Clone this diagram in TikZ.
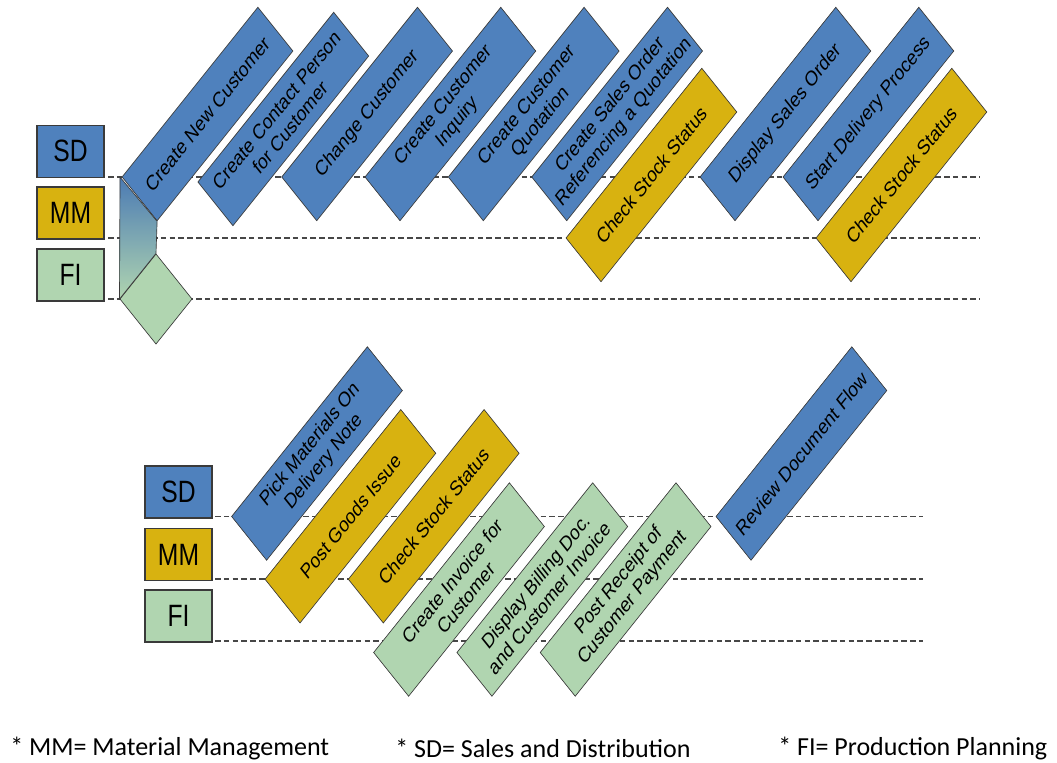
\documentclass[tikz,border=0pt]{standalone}
\usepackage{fontspec}
\setmainfont{Liberation Sans}
\newfontfamily\footfont{Carlito}
\definecolor{sdblue}{HTML}{4F81BD}
\definecolor{mmyellow}{HTML}{D8B210}
\definecolor{figreen}{HTML}{B0D5B0}
\definecolor{edgecol}{HTML}{3A3A3A}
\tikzset{
  task/.style={draw=edgecol, line width=0.5pt, rotate=45, transform shape,
    minimum width=144pt, minimum height=37.1pt, inner sep=1pt, align=center,
    font=\fontsize{12.7}{14.5}\selectfont},
  sdtask/.style={task, fill=sdblue},
  mmtask/.style={task, fill=mmyellow},
  fitask/.style={task, fill=figreen},
  lanelabel/.style={draw=edgecol, line width=0.8pt, transform shape,
    minimum width=50.25pt, minimum height=31.2pt, inner sep=0pt,
    font=\fontsize{18.5}{20}\selectfont},
  lane/.style={dash pattern=on 4.2pt off 2.4pt, line width=1.1pt, draw=black!72},
  foot/.style={anchor=west, inner sep=0pt, font=\footfont\fontsize{19.5}{22}\selectfont},
}
\begin{document}
\begin{tikzpicture}[x=0.75pt, y=0.75pt, yscale=1.25]
\useasboundingbox (0,0) rectangle (1057,-610.4);

% lane lines (top)
\coordinate (ta1) at (108,-141.6); \coordinate (tb1) at (980,-141.6);
\coordinate (ta2) at (108,-190.4); \coordinate (tb2) at (980,-190.4);
\coordinate (ta3) at (108,-239.2); \coordinate (tb3) at (980,-239.2);
\draw[lane] (ta1) -- (tb1);
\draw[lane] (ta2) -- (tb2);
\draw[lane] (ta3) -- (tb3);
% lane lines (bottom)
\coordinate (ba1) at (215,-413.2); \coordinate (bb1) at (923,-413.2);
\coordinate (ba2) at (215,-463.2); \coordinate (bb2) at (923,-463.2);
\coordinate (ba3) at (215,-512.8); \coordinate (bb3) at (923,-512.8);
\draw[lane] (ba1) -- (bb1);
\draw[lane] (ba2) -- (bb2);
\draw[lane] (ba3) -- (bb3);

% lane labels
\node[lanelabel, fill=sdblue]   (sd1) at (70.5,-121)   {SD};
\node[lanelabel, fill=mmyellow] (mm1) at (70.5,-170.4) {MM};
\node[lanelabel, fill=figreen]  (fi1) at (70.5,-220)   {FI};
\node[lanelabel, fill=sdblue]   (sd2) at (178.5,-393.6) {SD};
\node[lanelabel, fill=mmyellow] (mm2) at (178.5,-443.6) {MM};
\node[lanelabel, fill=figreen]  (fi2) at (178.5,-492.8) {FI};

% start diamond
\node[draw=edgecol, line width=0.5pt, fill=figreen, rotate=45, transform shape,
  minimum width=38.2pt, minimum height=38.2pt, inner sep=0pt] (d) at (156,-239.2) {};

% top tasks
\node[sdtask] (n1) at (207.5,-91.2) {Create New Customer};
\coordinate (g1) at (120,-141.6);
\shade[top color=sdblue!95!black, bottom color=figreen, draw=edgecol, line width=0.5pt]
  (g1) -- (n1.south west) -- (d.north east) -- (d.north west) -- cycle;
\node[sdtask] (n2) at (283.3,-95.2) {Create Contact Person\\for Customer};
\node[sdtask] (n3) at (367.1,-91.2) {Change Customer};
\node[sdtask] (n4) at (450.4,-91.2) {Create Customer\\Inquiry};
\node[sdtask] (n5) at (533.7,-91.2) {Create Customer\\Quotation};
\node[sdtask] (n6) at (617.1,-91.2) {Create Sales Order\\Referencing a Quotation};
\node[mmtask] (n7) at (651.4,-140) {Check Stock Status};
\node[sdtask] (n8) at (785.4,-91.2) {Display Sales Order};
\node[sdtask] (n9) at (868.4,-91.2) {Start Delivery Process};
\node[mmtask] (n10) at (901.4,-140) {Check Stock Status};

% bottom tasks
\node[sdtask] (m1) at (317,-362.8) {Pick Materials On\\Delivery Note};
\node[mmtask] (m2) at (350.4,-413) {Post Goods Issue};
\node[mmtask] (m3) at (433.7,-413) {Check Stock Status};
\node[fitask] (m4) at (459,-471.6) {Create Invoice for\\Customer};
\node[fitask] (m5) at (542.3,-471.6) {Display Billing Doc.\\and Customer Invoice};
\node[fitask] (m6) at (625.6,-471.6) {Post Receipt of\\Customer Payment};
\node[sdtask] (m7) at (801.4,-362.8) {Review Document Flow};

% footer
\node[foot] (f1) at (10,-598.4)  {* MM= Material Management};
\node[foot] (f2) at (395,-598.4) {* SD= Sales and Distribution};
\node[foot] (f3) at (778,-598.4) {* FI= Production Planning};
\end{tikzpicture}
\end{document}
